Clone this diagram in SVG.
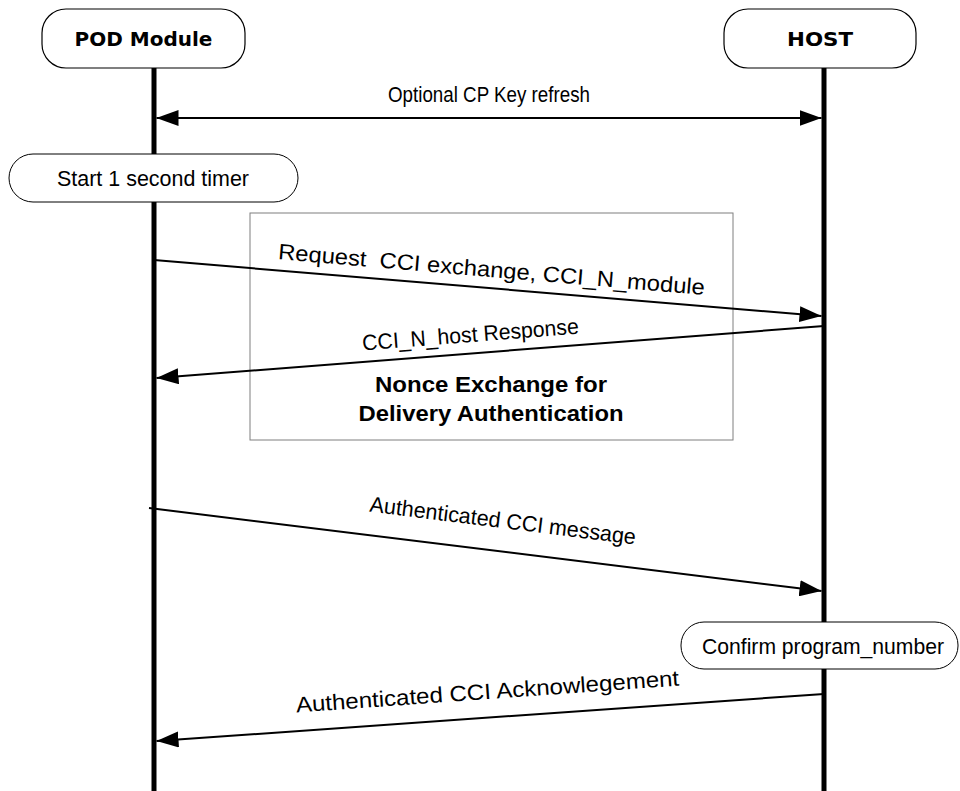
<svg xmlns="http://www.w3.org/2000/svg" width="960" height="791" viewBox="0 0 960 791">
  <style>
    .hdr { fill:#fff; stroke:#000; stroke-width:1.2; }
    .hdrtxt { font-family:"DejaVu Sans", sans-serif; font-weight:bold; font-size:20px; text-anchor:middle; fill:#000; }
    .life { stroke:#000; stroke-width:5; fill:none; }
    .msg { stroke:#000; stroke-width:2; fill:none; }
    .lbl { font-family:"Liberation Sans", Arial, sans-serif; font-size:22px; text-anchor:middle; fill:#000; }
    .bold { font-weight:bold; }
    .note { fill:#fff; stroke:#000; stroke-width:1; }
    .frame { fill:none; stroke:#7f7f7f; stroke-width:1; }
  </style>
  <defs>
    <marker id="ah" viewBox="0 0 22 16" refX="22" refY="8" markerWidth="22" markerHeight="16" orient="auto-start-reverse" markerUnits="userSpaceOnUse">
      <path d="M0,0 L22,8 L0,16 z" fill="#000"/>
    </marker>
  </defs>
  <rect width="960" height="791" fill="#fff"/>

  <g id="lifelines">
    <line class="life" x1="154" y1="68" x2="154" y2="791"/>
    <line class="life" x1="824" y1="68" x2="824" y2="791"/>
  </g>

  <g id="pod-module">
    <rect class="hdr" x="42" y="9" width="203" height="59" rx="24" ry="24"/>
    <text class="hdrtxt" x="143.5" y="46">POD Module</text>
  </g>

  <g id="host">
    <rect class="hdr" x="724" y="9" width="192" height="59" rx="24" ry="24"/>
    <text class="hdrtxt" x="820" y="46" textLength="66" lengthAdjust="spacingAndGlyphs">HOST</text>
  </g>

  <g id="nonce-frame">
    <rect class="frame" x="250" y="213" width="483" height="227"/>
    <text class="lbl bold" x="491" y="392" textLength="232" lengthAdjust="spacingAndGlyphs">Nonce Exchange for</text>
    <text class="lbl bold" x="491" y="421" textLength="265" lengthAdjust="spacingAndGlyphs">Delivery Authentication</text>
  </g>

  <g id="start-timer">
    <rect class="note" x="9" y="154" width="289" height="48" rx="24" ry="24"/>
    <text class="lbl" x="153" y="186" textLength="192" lengthAdjust="spacingAndGlyphs">Start 1 second timer</text>
  </g>

  <g id="confirm-program">
    <rect class="note" x="681" y="622" width="277" height="47" rx="23" ry="23"/>
    <text class="lbl" x="823" y="654" textLength="242" lengthAdjust="spacingAndGlyphs">Confirm program_number</text>
  </g>

  <g id="connectors">
    <line class="msg" x1="156.5" y1="118" x2="821.5" y2="118" marker-start="url(#ah)" marker-end="url(#ah)"/>
    <line class="msg" x1="154" y1="260" x2="821.5" y2="316" marker-end="url(#ah)"/>
    <line class="msg" x1="824" y1="326" x2="156.5" y2="378" marker-end="url(#ah)"/>
    <line class="msg" x1="149" y1="508" x2="821.5" y2="591" marker-end="url(#ah)"/>
    <line class="msg" x1="824" y1="694" x2="156.5" y2="741" marker-end="url(#ah)"/>
  </g>

  <g id="labels">
    <text class="lbl" x="489" y="102" textLength="202" lengthAdjust="spacingAndGlyphs">Optional CP Key refresh</text>
    <text class="lbl" xml:space="preserve" x="491" y="277" transform="rotate(4.8 491 277)" textLength="428" lengthAdjust="spacingAndGlyphs">Request  CCI exchange, CCI_N_module</text>
    <text class="lbl" x="471" y="342" transform="rotate(-4.46 471 342)" textLength="217" lengthAdjust="spacingAndGlyphs">CCI_N_host Response</text>
    <text class="lbl" x="502" y="528" transform="rotate(7.05 502 528)" textLength="268" lengthAdjust="spacingAndGlyphs">Authenticated CCI message</text>
    <text class="lbl" x="488" y="699" transform="rotate(-4.03 488 699)" textLength="384" lengthAdjust="spacingAndGlyphs">Authenticated CCI Acknowlegement</text>
  </g>
</svg>
